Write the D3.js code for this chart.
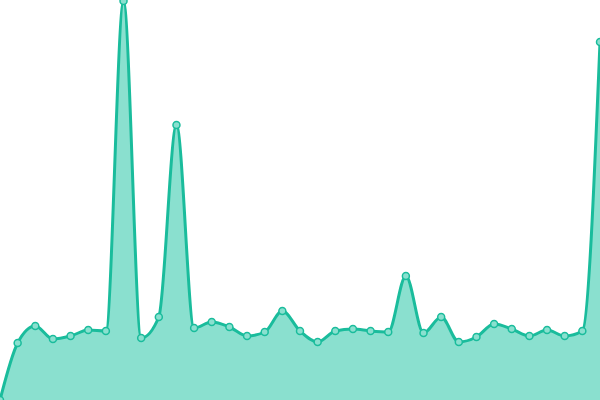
<!DOCTYPE html>
<head>
  <meta charset="utf-8" />
  <script src="https://d3js.org/d3.v7.min.js"></script>
  <style>
    body { margin: 0; }
    svg { display: block; }
  </style>
</head>
<body>
  <script>
    var width = 600,
      height = 400;

    // valeurs
    var values = [0, 57, 74, 61, 64, 70, 69, 399, 62, 83, 275, 72, 78, 73, 64, 68, 89, 69,
      58, 69, 71, 69, 68, 124, 67, 83, 58, 63, 76, 71, 64, 70, 64, 69, 358];
    var index = values.map(function (d, i) { return i; });

    var svg = d3.select("body").append("svg")
      .attr("width", width)
      .attr("height", height);

    var x = d3.scaleLinear().domain([0, values.length - 1]).range([0, width]);
    var y = d3.scaleLinear().domain([0, 400]).range([height, 0]);

    var area = d3.area()
      .x(function (i) { return x(i); })
      .y0(height)
      .y1(function (i) { return y(values[i]); })
      .curve(d3.curveMonotoneX);

    var line = d3.line()
      .x(function (i) { return x(i); })
      .y(function (i) { return y(values[i]); })
      .curve(d3.curveMonotoneX);

    svg.append("path")
      .datum(index)
      .attr("d", area)
      .attr("fill", "#8ae0cf");

    svg.append("path")
      .datum(index)
      .attr("d", line)
      .attr("fill", "none")
      .attr("stroke", "#1abc9c")
      .attr("stroke-width", 3);

    svg.selectAll("circle")
      .data(index)
      .join("circle")
      .attr("cx", function (i) { return x(i); })
      .attr("cy", function (i) { return y(values[i]); })
      .attr("r", 3.5)
      .attr("fill", "#8ae0cf")
      .attr("stroke", "#1abc9c")
      .attr("stroke-width", 1.5);
  </script>
</body>
